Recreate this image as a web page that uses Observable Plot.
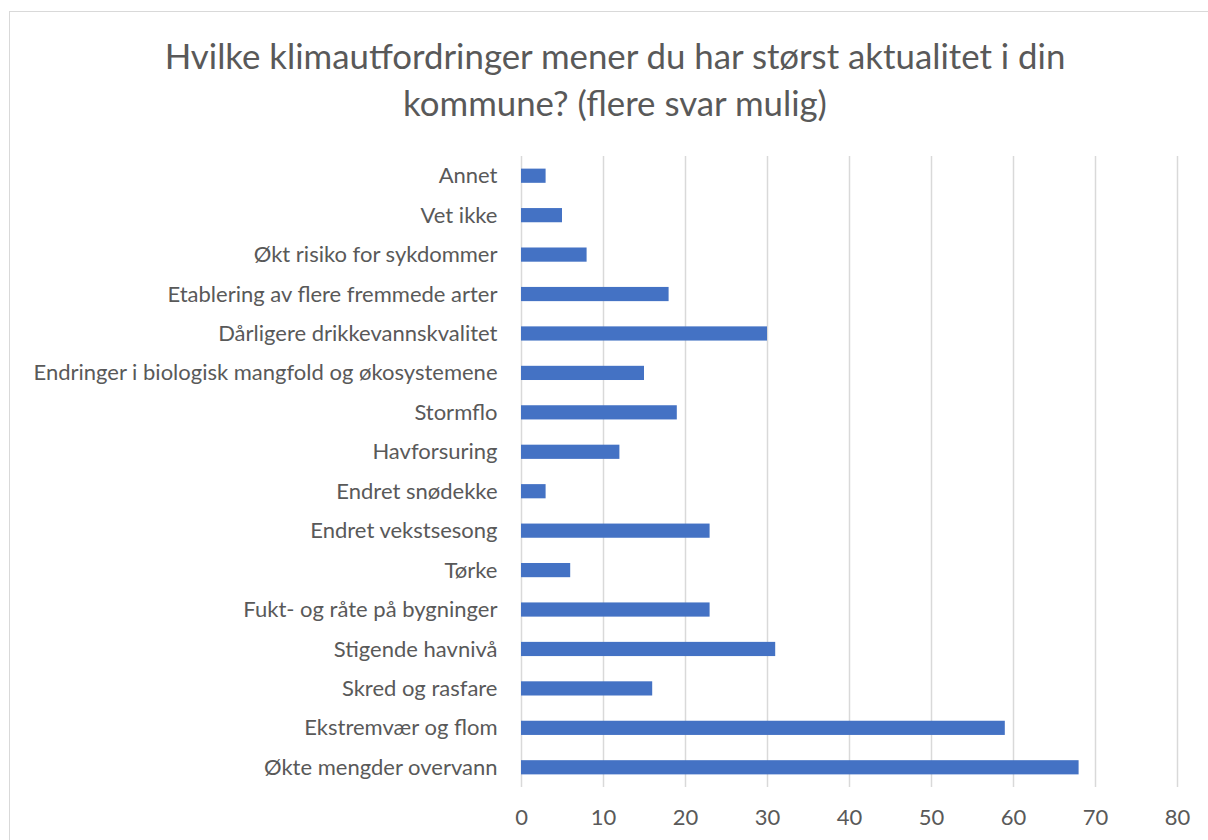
<!DOCTYPE html>
<html>
<head>
<meta charset="utf-8">
<script src="https://cdn.jsdelivr.net/npm/d3@7"></script>
<script src="https://cdn.jsdelivr.net/npm/@observablehq/plot@0.6"></script>
<style>
  html, body { margin: 0; padding: 0; background: #fff; overflow: hidden; }
  #frame { position: absolute; left: 9px; top: 11px; width: 1300px; height: 900px; border: 1.5px solid #d9d9d9; box-sizing: border-box; }
  #title { position: absolute; left: 0; top: 32px; width: 1230px; text-align: center; font-family: Lato, "Open Sans", sans-serif; font-size: 34.8px; line-height: 47px; color: #595959; }
  #chart { position: absolute; left: 0; top: 140px; }
  #chart svg { font-family: Lato, "Open Sans", sans-serif; }
</style>
</head>
<body>
<div id="frame"></div>
<div id="title">Hvilke klimautfordringer mener du har størst aktualitet i din<br>kommune? (flere svar mulig)</div>
<div id="chart"></div>
<script>
const categories = [
  "Annet",
  "Vet ikke",
  "Økt risiko for sykdommer",
  "Etablering av flere fremmede arter",
  "Dårligere drikkevannskvalitet",
  "Endringer i biologisk mangfold og økosystemene",
  "Stormflo",
  "Havforsuring",
  "Endret snødekke",
  "Endret vekstsesong",
  "Tørke",
  "Fukt- og råte på bygninger",
  "Stigende havnivå",
  "Skred og rasfare",
  "Ekstremvær og flom",
  "Økte mengder overvann"
];
const values = [3, 5, 8, 18, 30, 15, 19, 12, 3, 23, 6, 23, 31, 16, 59, 68];
const xTicks = [0, 10, 20, 30, 40, 50, 60, 70, 80];

const data = categories.map((c, i) => ({category: c, value: values[i]}));

const chart = Plot.plot({
  width: 1208,
  height: 700,
  marginLeft: 521,
  marginRight: 31,
  marginTop: 16,
  marginBottom: 53,
  style: {fontSize: "22px", color: "#595959", background: "transparent"},
  x: {domain: [0, 80], ticks: xTicks, label: null},
  y: {domain: categories, paddingInner: 0.64, paddingOuter: 0.32, round: false, label: null},
  marks: [
    Plot.gridX(xTicks, {stroke: "#d9d9d9", strokeOpacity: 1, strokeWidth: 1.5}),
    Plot.barX(data, {x: "value", y: "category", fill: "#4472c4"}),
    Plot.axisX({ticks: xTicks, tickSize: 0, tickPadding: 22, label: null, fill: "#595959", fontSize: 22}),
    Plot.axisY({tickSize: 0, tickPadding: 24, label: null, fill: "#595959", fontSize: 22})
  ]
});
document.getElementById("chart").appendChild(chart);
</script>
</body>
</html>
